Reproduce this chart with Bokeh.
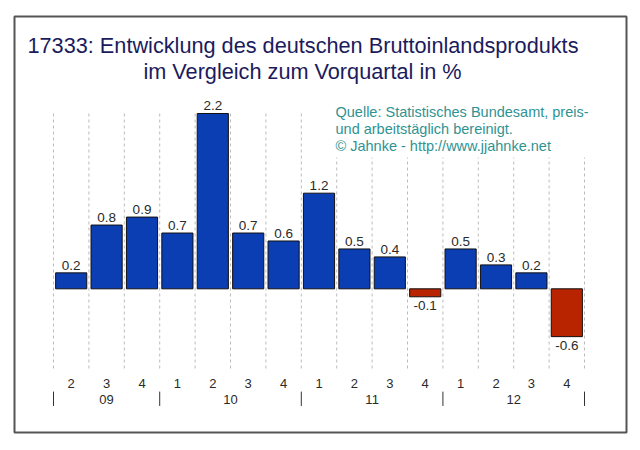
from bokeh.plotting import figure
from bokeh.models import ColumnDataSource, Range1d, Label, BoxAnnotation
from bokeh.embed import file_html
from bokeh.resources import INLINE
from bokeh.core.properties import value

# Quarterly change of German GDP vs. previous quarter, in %
quarters = ["2", "3", "4", "1", "2", "3", "4", "1", "2", "3", "4", "1", "2", "3", "4"]
years = ["09", "09", "09", "10", "10", "10", "10", "11", "11", "11", "11", "12", "12", "12", "12"]
values = [0.2, 0.8, 0.9, 0.7, 2.2, 0.7, 0.6, 1.2, 0.5, 0.4, -0.1, 0.5, 0.3, 0.2, -0.6]

title_lines = ["17333: Entwicklung des deutschen Bruttoinlandsprodukts",
               "im Vergleich zum Vorquartal in %"]
source_lines = ["Quelle: Statistisches Bundesamt, preis-",
                "und arbeitstäglich bereinigt.",
                "\u00a9 Jahnke - http://www.jjahnke.net"]

BLUE = "#0b3db3"
RED = "#b82300"
FONT = "Liberation Sans"

n = len(values)
idx = list(range(n))
y_lo, y_hi = -1.0, 2.2          # extent of the plotting grid

p = figure(width=640, height=450, output_backend="svg", toolbar_location=None,
           x_range=Range1d(-1.6017, 15.686), y_range=Range1d(-1.803, 3.417),
           min_border_left=14, min_border_right=14, min_border_top=16, min_border_bottom=18,
           x_axis_type=None, y_axis_type=None)
p.grid.visible = False
p.outline_line_color = "#555555"
p.outline_line_width = 2
p.background_fill_color = "white"
p.border_fill_color = "white"

# dashed separators between quarters
bounds = [i - 0.5 for i in range(n + 1)]
p.segment(x0=bounds, x1=bounds, y0=[y_lo] * len(bounds), y1=[y_hi] * len(bounds),
          line_color="#bbbbbb", line_width=1, line_dash="3 3")

# white panel behind the source note
p.add_layout(BoxAnnotation(left=311, right=592, bottom=275, top=336,
                           left_units="screen", right_units="screen",
                           bottom_units="screen", top_units="screen",
                           fill_color="white", fill_alpha=1.0, line_alpha=0))

src = ColumnDataSource(dict(
    x=idx, top=values,
    color=[BLUE if v >= 0 else RED for v in values],
))
p.vbar(x="x", top="top", bottom=0, width=0.88, source=src,
       fill_color="color", line_color="#111111", line_width=1)

# value labels
pos_i = [i for i in idx if values[i] >= 0]
neg_i = [i for i in idx if values[i] < 0]
pos = ColumnDataSource(dict(x=pos_i, y=[values[i] for i in pos_i],
                            t=[f"{values[i]:.1f}" for i in pos_i]))
neg = ColumnDataSource(dict(x=neg_i, y=[values[i] for i in neg_i],
                            t=[f"{values[i]:.1f}" for i in neg_i]))
p.text(x="x", y="y", text="t", source=pos, text_align="center", text_baseline="bottom",
       y_offset=-3, text_font=value(FONT), text_font_size="13.5px", text_color="#2a2a2a")
p.text(x="x", y="y", text="t", source=neg, text_align="center", text_baseline="top",
       y_offset=4, text_font=value(FONT), text_font_size="13.5px", text_color="#2a2a2a")

# quarter labels
q_y = y_lo - 0.19
p.text(x=idx, y=[q_y] * n, text=quarters, text_align="center", text_baseline="middle",
       text_font=value(FONT), text_font_size="13px", text_color="#2a2a2a")

# year labels and year separators
groups = []
for i, yr in enumerate(years):
    if not groups or groups[-1][0] != yr:
        groups.append([yr, i, i])
    else:
        groups[-1][2] = i
yr_y = y_lo - 0.39
p.text(x=[(g[1] + g[2]) / 2 for g in groups], y=[yr_y] * len(groups),
       text=[g[0] for g in groups], text_align="center", text_baseline="middle",
       text_font=value(FONT), text_font_size="13px", text_color="#2a2a2a")
seps = [g[1] - 0.5 for g in groups] + [groups[-1][2] + 0.5]
p.segment(x0=seps, x1=seps, y0=[y_lo - 0.29] * len(seps), y1=[y_lo - 0.47] * len(seps),
          line_color="#333333", line_width=1)

# title
p.add_layout(Label(x=13, y=387, x_units="screen", y_units="screen", text=title_lines[0],
                   text_align="left", text_baseline="middle", text_font=FONT,
                   text_font_size="21.7px", text_color="#1b1b5c"))
p.add_layout(Label(x=288, y=361, x_units="screen", y_units="screen", text=title_lines[1],
                   text_align="center", text_baseline="middle", text_font=FONT,
                   text_font_size="21.7px", text_color="#1b1b5c"))

# source note
for k, line in enumerate(source_lines):
    p.add_layout(Label(x=321, y=321 - 17 * k, x_units="screen", y_units="screen", text=line,
                       text_align="left", text_baseline="middle", text_font=FONT,
                       text_font_size="14.5px", text_color="#2f9393"))

open("out.html", "w").write(file_html(p, INLINE))
